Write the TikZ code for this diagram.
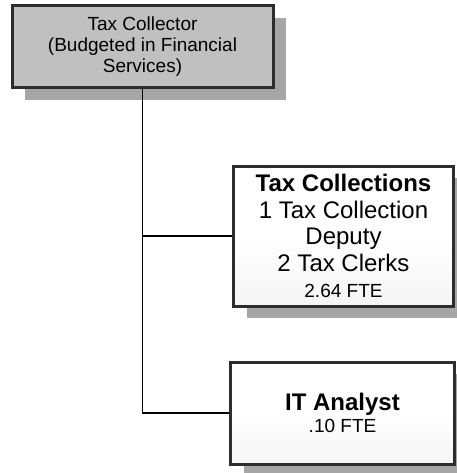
\documentclass[tikz,border=0pt]{standalone}
\usepackage{fontspec}
\setmainfont{Liberation Sans}
\usetikzlibrary{shadows}
\definecolor{boxgray}{RGB}{192,192,192}
\definecolor{shadowgray}{RGB}{166,166,166}
\definecolor{edgegray}{RGB}{45,45,45}
\tikzset{
  orgbox/.style={draw=edgegray,line width=3pt,align=center,inner sep=0pt,
    drop shadow={shadow xshift=13pt,shadow yshift=-12pt,fill=shadowgray,opacity=1}},
  staffbox/.style={orgbox,top color=white,bottom color=gray!8,middle color=white},
  link/.style={line width=1.3pt}
}
\newcommand{\fte}[1]{{\fontsize{19}{21}\selectfont #1}}
\begin{document}
\begin{tikzpicture}[x=1pt,y=-1pt]
	\useasboundingbox (0,0) rectangle (456,473);
	\node[orgbox,fill=boxgray,minimum width=261pt,minimum height=82pt,
		font=\fontsize{19}{21}\selectfont] (collector) at (142.5,47)
		{Tax Collector\\(Budgeted in Financial\\Services)};
	\node[staffbox,minimum width=220pt,minimum height=140pt,
		font=\fontsize{24}{26.5}\selectfont] (collections) at (343.5,236)
		{\textbf{Tax Collections}\\1 Tax Collection\\Deputy\\2 Tax Clerks\\\fte{2.64 FTE}};
	\node[staffbox,minimum width=224pt,minimum height=102pt,
		font=\fontsize{24}{22}\selectfont] (analyst) at (342.5,413)
		{\textbf{IT Analyst}\\\fte{.10 FTE}};
	
	\draw[link] (collector.south) |- (analyst.west);
	\draw[link] (collector.south |- collections.west) -- (collections.west);
\end{tikzpicture}
\end{document}
